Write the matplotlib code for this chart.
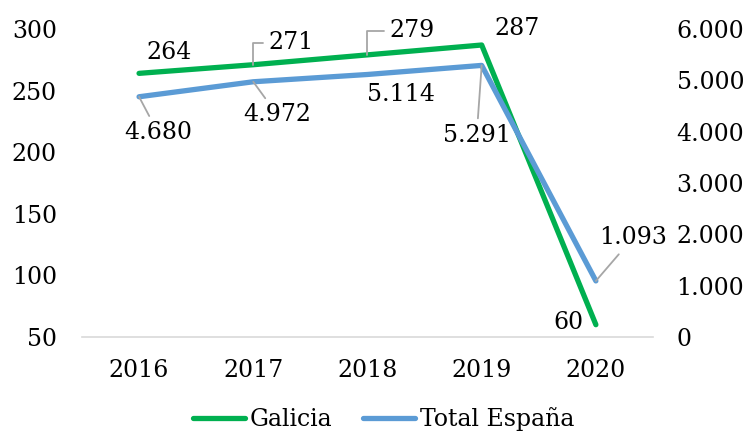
import matplotlib
matplotlib.use('Agg')
import matplotlib.pyplot as plt
from matplotlib.ticker import FuncFormatter, MultipleLocator

years = ['2016', '2017', '2018', '2019', '2020']
galicia = [264, 271, 279, 287, 60]
espana = [4680, 4972, 5114, 5291, 1093]

# label offsets in pixels (dx, dy) and whether a leader line is drawn
gal_off = [(30, 21, None), (38, 22, 'angle'), (45, 24, 'angle'), (35, 17, None), (-27, 2, None)]
esp_off = [(19, -36, 'line'), (24, -33, 'line'), (34, -20, None), (-5, -70, 'line'), (37, 43, 'line')]

green = '#00B050'
blue = '#5B9BD5'
grey = '#A6A6A6'
fs = 17
plt.rcParams['font.family'] = ['DejaVu Serif']

def fmt(v):
    return f'{int(v):,}'.replace(',', '.')

fig = plt.figure(figsize=(7.45, 4.36), dpi=100)
ax = fig.add_axes([0.110, 0.227, 0.7665, 0.7065])
ax2 = ax.twinx()

x = range(len(years))
l1, = ax.plot(x, galicia, color=green, lw=3.8, solid_capstyle='round', label='Galicia', zorder=3)
l2, = ax2.plot(x, espana, color=blue, lw=3.8, solid_capstyle='round', label='Total España', zorder=3)

ax.set_xlim(-0.5, len(years) - 0.5)
ax.set_ylim(50, 300)
ax2.set_ylim(0, 6000)
ax.yaxis.set_major_locator(MultipleLocator(50))
ax2.yaxis.set_major_locator(MultipleLocator(1000))
ax2.yaxis.set_major_formatter(FuncFormatter(lambda v, p: fmt(v)))
ax.set_xticks(list(x))
ax.set_xticklabels(years)

for a in (ax, ax2):
    for s in a.spines.values():
        s.set_visible(False)
ax.spines['bottom'].set_visible(True)
ax.spines['bottom'].set_color('#D9D9D9')
ax.spines['bottom'].set_linewidth(1.2)
ax.tick_params(axis='y', length=0, pad=18, labelsize=fs)
ax.tick_params(axis='x', length=0, pad=16, labelsize=fs)
ax2.tick_params(axis='y', length=0, pad=17, labelsize=fs)

px = 0.72  # points per pixel at dpi 100

def label(a, xi, v, off, txt):
    dx, dy, kind = off
    props = None
    if kind == 'angle':
        props = dict(arrowstyle='-', color=grey, lw=1.3, shrinkA=2, shrinkB=0,
                     connectionstyle='angle,angleA=0,angleB=90,rad=0')
    elif kind == 'line':
        props = dict(arrowstyle='-', color=grey, lw=1.3, shrinkA=2, shrinkB=0)
    a.annotate(txt, xy=(xi, v), xytext=(dx * px, dy * px), textcoords='offset points',
               ha='center', va='center', fontsize=fs, arrowprops=props, zorder=4)

for i, v in enumerate(galicia):
    label(ax, i, v, gal_off[i], str(v))
for i, v in enumerate(espana):
    label(ax2, i, v, esp_off[i], fmt(v))

fig.legend(handles=[l1, l2], loc='center', bbox_to_anchor=(0.515, 0.038), ncol=2,
           frameon=False, fontsize=fs, handlelength=2.2, handletextpad=0.2,
           columnspacing=1.3)

fig.savefig('out.png', dpi=100)
